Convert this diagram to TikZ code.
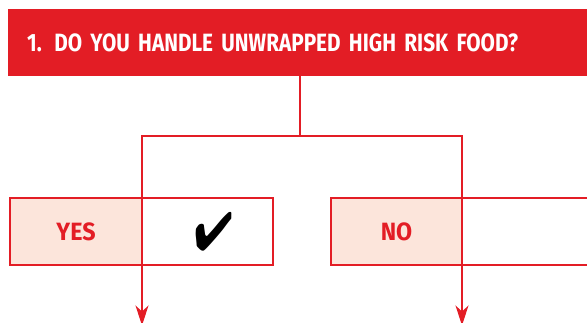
\documentclass[tikz,border=0pt]{standalone}
\usepackage{fontspec}
\usepackage{pifont}
\usetikzlibrary{arrows.meta,positioning,calc}
\newfontfamily\headfont[FakeStretch=0.83]{Fira Sans}
\newfontfamily\answerfont[FakeStretch=0.93]{Fira Sans}
\definecolor{RiskRed}{HTML}{E31D25}
\definecolor{RiskPink}{HTML}{FCE5DB}

\begin{document}
\begin{tikzpicture}[x=1pt,y=-1pt,>=Stealth]
\useasboundingbox (0,0) rectangle (587,322);
\clip (0,0) rectangle (587,322);
\tikzset{
  answer/.style={rectangle,draw=RiskRed,line width=1.3pt,outer sep=0pt,minimum height=67pt,inner sep=0pt,font=\answerfont\bfseries\fontsize{25}{27}\selectfont,text=RiskRed},
  flow/.style={draw=RiskRed,line width=1.3pt},
  flowarrow/.style={flow,-{Stealth[length=20pt,width=13pt,inset=6pt]}}
}
% question header
\node[fill=RiskRed,anchor=north west,minimum height=67pt,inner xsep=19pt,inner ysep=0pt,text width=554pt,align=left,text=white,font=\headfont\bfseries\fontsize{25}{27}\selectfont] (q) at (8,9) {1. DO YOU HANDLE UNWRAPPED HIGH RISK FOOD?};
% answer boxes
\node[answer,fill=RiskPink,anchor=north west,minimum width=132pt] (yeslabel) at (10,198) {YES};
\node[answer,right=0pt of yeslabel,minimum width=131pt,text=black,font=\fontsize{40}{42}\selectfont] (yescheck) {\hspace{12pt}\scalebox{1.15}[1.35]{\ding{52}}};
\node[answer,fill=RiskPink,anchor=north west,minimum width=131pt] (nolabel) at (331,198) {NO};
\node[answer,right=0pt of nolabel,minimum width=140pt] (noblank) {};
% connectors
\coordinate (fork) at (300,136);
\coordinate (yesend) at ($(yeslabel.east)+(0,94)$);
\coordinate (noend) at ($(nolabel.east)+(0,94)$);
\draw[flow] (fork |- q.south) -- (fork);
\draw[flowarrow] (fork) -| (yesend);
\draw[flowarrow] (fork) -| (noend);
\end{tikzpicture}
\end{document}
